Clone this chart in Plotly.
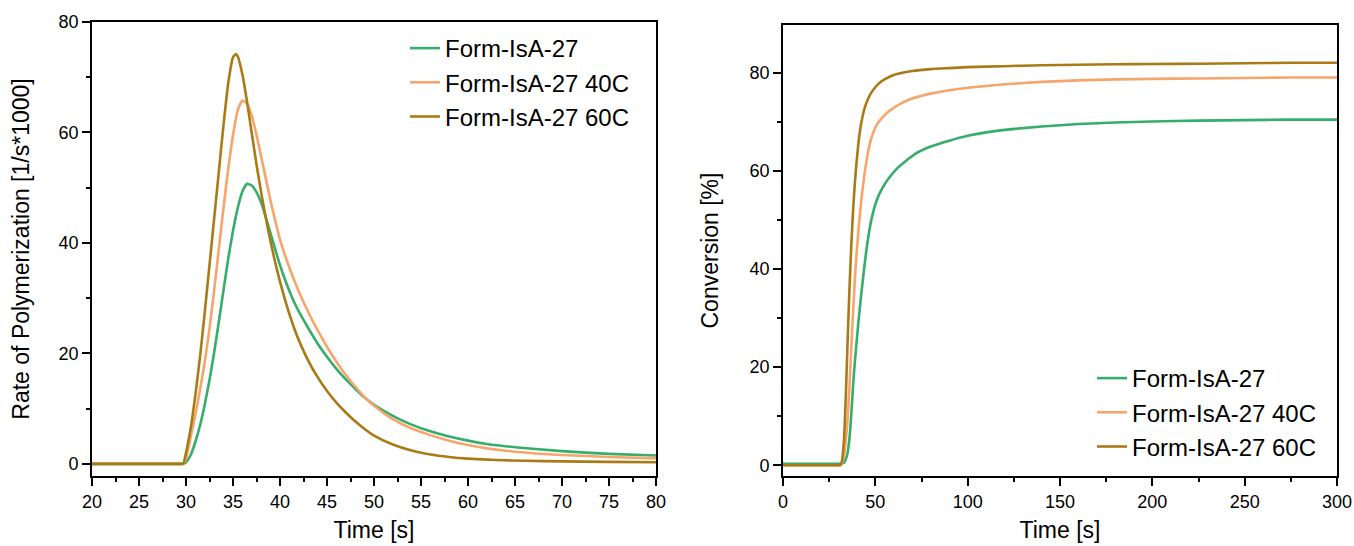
import plotly.graph_objects as go

names = ["Form-IsA-27", "Form-IsA-27 40C", "Form-IsA-27 60C"]
colors = ["#35AD6B", "#F6A56C", "#A97B16"]

# ---- Rate of polymerization (left) ----
t_rate_a = [20, 25, 29.0, 29.5, 29.7, 30.0, 30.5, 31.0, 31.5, 32.0, 32.5, 33.0, 33.5, 34.0, 34.5, 35.0, 35.5,
            36.0, 36.5, 37.0, 37.5, 38.0, 38.5, 39.0, 39.5, 40.0, 40.5, 41.0, 41.5, 42.0, 43, 44,
            45, 46, 47, 48, 49, 50, 52, 54, 56, 58, 60, 62, 65, 70, 75, 80]
rate_a = [0, 0, 0, 0, 0, 0.3, 1.6, 4.0, 7.0, 10.8, 15.2, 20.2, 25.8, 31.6, 37.2, 42.2, 46.3,
          49.3, 50.7, 50.4, 49.2, 47.3, 44.6, 41.7, 38.8, 36.0, 33.5, 31.3, 29.3, 27.6, 24.6, 21.8,
          19.4, 17.2, 15.3, 13.6, 12.0, 10.7, 8.7, 7.1, 5.9, 4.95, 4.2, 3.6, 3.0, 2.3, 1.8, 1.5]

t_rate_b = [20, 25, 29.0, 29.5, 29.7, 30.0, 30.5, 31.0, 31.5, 32.0, 32.5, 33.0, 33.5, 34.0, 34.5, 35.0, 35.5,
            36.0, 36.5, 37.0, 37.5, 38.0, 38.5, 39.0, 39.5, 40.0, 41, 42, 43, 44, 45, 46, 47, 48,
            49, 50, 52, 54, 56, 58, 60, 62, 65, 70, 75, 80]
rate_b = [0, 0, 0, 0, 0, 1.0, 4.8, 9.0, 13.5, 18.5, 24.5, 31.5, 39.0, 46.5, 53.5, 59.5, 64.0,
          65.8, 65.2, 63.0, 59.6, 55.6, 51.6, 47.6, 44.0, 40.6, 35.5, 31.2, 27.5, 24.2, 21.2, 18.5, 16.1, 14.0,
          12.1, 10.5, 8.1, 6.4, 5.2, 4.2, 3.4, 2.8, 2.2, 1.6, 1.25, 1.0]

t_rate_c = [20, 25, 29.0, 29.5, 29.7, 30.0, 30.5, 31.0, 31.5, 32.0, 32.5, 33.0, 33.5, 34.0, 34.5, 35.0, 35.3,
            35.5, 36.0, 36.5, 37.0, 37.5, 38.0, 38.5, 39.0, 39.5, 40.0, 40.5, 41.0, 41.5, 42.0, 43,
            44, 45, 46, 47, 48, 49, 50, 52, 54, 56, 58, 60, 63, 66, 70, 75, 80]
rate_c = [0, 0, 0, 0, 0, 2.0, 6.5, 12.5, 19.5, 27.5, 36.0, 44.5, 53.0, 61.5, 69.0, 73.6, 74.2,
          73.8, 70.5, 65.5, 59.8, 54.2, 49.1, 44.4, 40.2, 36.4, 33.0, 29.9, 27.1, 24.6, 22.4, 18.7,
          15.7, 13.2, 11.1, 9.3, 7.7, 6.3, 5.1, 3.5, 2.4, 1.7, 1.25, 0.95, 0.7, 0.55, 0.45, 0.35, 0.3]

# ---- Conversion (right) ----
t_conv_a = [0, 10, 20, 30, 31, 32, 33, 34, 35, 36, 37, 38, 39, 40, 41, 42, 43, 44, 45, 46, 47, 48, 50,
            52, 55, 58, 62, 66, 72, 80, 90, 100, 110, 120, 140, 160, 180, 200, 225, 250, 275, 300]
conv_a = [0.3, 0.3, 0.3, 0.3, 0.3, 0.35, 0.5, 1.2, 2.6, 5.5, 10.5, 16.5, 21.5, 25.8, 29.8, 33.5, 37.0,
          40.3, 43.4, 46.1, 48.4, 50.3, 53.2, 55.2, 57.3, 58.9, 60.6, 61.9, 63.6, 65.0, 66.2, 67.2, 67.9,
          68.4, 69.1, 69.6, 69.9, 70.1, 70.3, 70.4, 70.5, 70.5]

t_conv_b = [0, 10, 20, 30, 31, 32, 33, 34, 35, 36, 37, 38, 39, 40, 41, 42, 43, 44, 45, 46, 47, 48, 50,
            52, 54, 57, 60, 65, 70, 80, 90, 100, 120, 140, 160, 180, 200, 225, 250, 275, 300]
conv_b = [0, 0, 0, 0, 0, 0.5, 2.0, 5.0, 9.5, 16.0, 24.0, 31.5, 38.5, 44.0, 48.5, 52.5, 56.0, 59.0,
          61.5, 63.8, 65.5, 66.9, 68.9, 70.1, 71.0, 72.1, 72.9, 74.0, 74.8, 75.8, 76.5, 77.0, 77.7, 78.2,
          78.5, 78.7, 78.8, 78.9, 79.0, 79.1, 79.1]

t_conv_c = [0, 10, 20, 30, 31, 32, 33, 34, 35, 36, 37, 38, 39, 40, 41, 42, 43, 44, 46, 48, 50, 52,
            55, 60, 70, 80, 90, 100, 120, 140, 160, 180, 200, 225, 250, 275, 300]
conv_c = [0, 0, 0, 0, 0, 1.0, 5.0, 14.0, 25.5, 36.0, 45.0, 52.3, 58.0, 62.5, 66.2, 69.0, 71.0, 72.6,
          74.7, 76.1, 77.1, 77.9, 78.7, 79.6, 80.4, 80.8, 81.0, 81.2, 81.4, 81.6, 81.7, 81.8, 81.85,
          81.9, 82.0, 82.1, 82.1]

rate_t = [t_rate_a, t_rate_b, t_rate_c]
rate_v = [rate_a, rate_b, rate_c]
conv_t = [t_conv_a, t_conv_b, t_conv_c]
conv_v = [conv_a, conv_b, conv_c]

FONT = "Liberation Sans, Arial, sans-serif"

fig = go.Figure()
for i in range(3):
    fig.add_trace(go.Scatter(x=rate_t[i], y=rate_v[i], mode="lines", name=names[i],
                             line=dict(color=colors[i], width=2.6, shape="spline", smoothing=0.5),
                             xaxis="x", yaxis="y", legend="legend"))
for i in range(3):
    fig.add_trace(go.Scatter(x=conv_t[i], y=conv_v[i], mode="lines", name=names[i],
                             line=dict(color=colors[i], width=2.6, shape="spline", smoothing=0.5),
                             xaxis="x2", yaxis="y2", legend="legend2"))

W, H = 1354, 546
ML, MT = 92, 22
MR = W - 1337
MB = H - 476
PW, PH = W - ML - MR, H - MT - MB


def fx(px):
    return (px - ML) / PW


def fy(py):
    return 1 - (py - MT) / PH


def ax(**kw):
    base = dict(showline=True, linecolor="black", linewidth=1.8, mirror=True,
                ticks="outside", ticklen=8, tickwidth=1.8, tickcolor="black",
                showgrid=False, zeroline=False, automargin=False,
                tickfont=dict(family=FONT, size=18, color="black"))
    base.update(kw)
    return base


def minor(d):
    return dict(ticks="outside", dtick=d, ticklen=4, tickwidth=1.8, tickcolor="black")


TF = dict(family=FONT, size=23, color="black")

fig.update_layout(
    width=W, height=H,
    paper_bgcolor="white", plot_bgcolor="white",
    margin=dict(l=ML, r=MR, t=MT, b=MB, autoexpand=False),
    font=dict(family=FONT, color="black"),
    xaxis=ax(domain=[0, fx(656)], range=[20, 80], dtick=5, anchor="y", minor=minor(2.5),
             title=dict(text="Time [s]", font=TF, standoff=11)),
    yaxis=ax(domain=[0, 1], range=[-2.2, 80], dtick=20, anchor="x", minor=minor(10),
             title=dict(text="Rate of Polymerization [1/s*1000]", font=TF, standoff=22)),
    xaxis2=ax(domain=[fx(783), 1], range=[0, 300], dtick=50, anchor="y2", minor=minor(25),
              title=dict(text="Time [s]", font=TF, standoff=11)),
    yaxis2=ax(domain=[0, fy(25)], range=[-2.2, 89.8], dtick=20, anchor="x2", minor=minor(10),
              title=dict(text="Conversion [%]", font=TF, standoff=24)),
    legend=dict(x=fx(405), y=fy(26), xanchor="left", yanchor="top",
                bgcolor="rgba(0,0,0,0)", font=dict(family=FONT, size=24, color="black"), tracegroupgap=0),
    legend2=dict(x=fx(1092), y=fy(356), xanchor="left", yanchor="top",
                 bgcolor="rgba(0,0,0,0)", font=dict(family=FONT, size=24, color="black"), tracegroupgap=0),
    showlegend=True,
)

# remove the browser's default 8px body margin so the figure fills the window exactly
fig.write_html("out.html", config={"displayModeBar": False},
               post_script="document.body.style.margin='0px';document.body.style.overflow='hidden';")
